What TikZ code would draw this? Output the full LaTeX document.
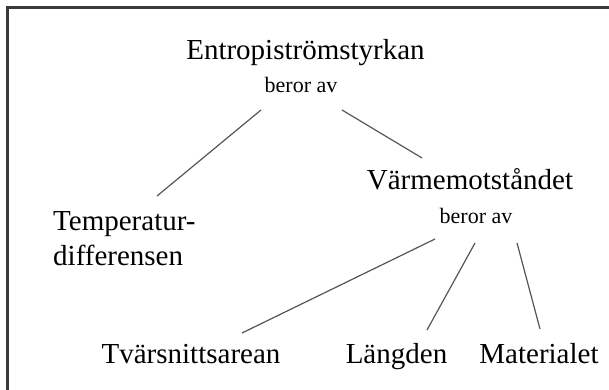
\documentclass[tikz,border=0pt]{standalone}
\usepackage{fontspec}
\setmainfont{Liberation Serif}
\usetikzlibrary{calc}
\definecolor{FrameGray}{HTML}{3A3A3A}
\definecolor{LinkGray}{HTML}{555555}

\begin{document}
\begin{tikzpicture}[x=1pt,y=1pt,
    term/.style={inner sep=0pt,font=\fontsize{29}{35}\selectfont},
    dep/.style={inner sep=0pt,font=\fontsize{22}{26}\selectfont},
    link/.style={LinkGray,line width=1.2pt}]
    \useasboundingbox (0,0) rectangle (609,389);
    \draw[FrameGray,line width=2.6pt] (7.5,-10) rectangle (620,381.5);
    \node[term,anchor=base] (ent) at (305.5,329) {Entropiströmstyrkan};
    \node[dep,anchor=base] (ber1) at (301,297) {beror av};
    \node[term,anchor=base] (vrm) at (470,200) {Värmemotståndet};
    \node[dep,anchor=base] (ber2) at (476,166) {beror av};
    \node[term,anchor=north west,align=left] (temp) at (53,178) {Temperatur-\\differensen};
    \node[term,anchor=base] (tvr) at (191,26) {Tvärsnittsarean};
    \node[term,anchor=base] (lng) at (396.5,26) {Längden};
    \node[term,anchor=base] (mat) at (539,26) {Materialet};
    \draw[link] ($(ber1.base)+(-40,-18)$) -- ($(temp.north west)+(104,15)$);
    \draw[link] ($(ber1.base)+(41,-18)$) -- ($(vrm.base)+(-48,31)$);
    \draw[link] ($(ber2.base)+(-41,-16)$) -- ($(tvr.base)+(51,30)$);
    \draw[link] ($(ber2.base)+(-1,-20)$) -- ($(lng.base)+(30.5,33)$);
    \draw[link] ($(ber2.base)+(41,-20)$) -- ($(mat.base)+(1,34)$);
\end{tikzpicture}
\end{document}
